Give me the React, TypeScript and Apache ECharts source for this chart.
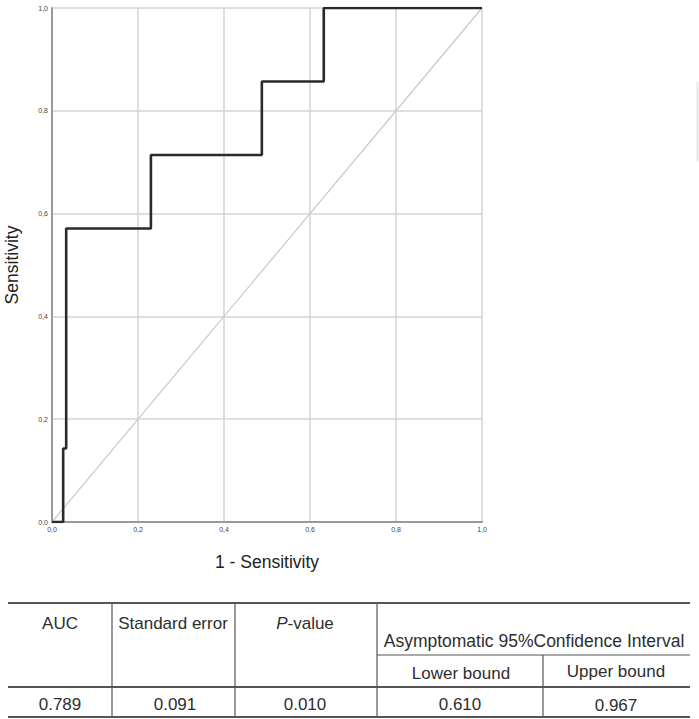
import React, { useEffect, useRef } from "react";
import * as echarts from "echarts";

// ROC curve step points (1 - specificity, sensitivity)
const fprValues = [0, 0.026, 0.033, 0.23, 0.488, 0.632, 1];
const tprValues = [0, 0.143, 0.571, 0.714, 0.857, 1, 1];
const refLine = [
  [0, 0],
  [1, 1],
];

// Table contents
const headerTop = ["AUC", "Standard error", "P-value", "Asymptomatic 95%Confidence Interval"];
const headerSub = ["Lower bound", "Upper bound"];
const rowValues = ["0.789", "0.091", "0.010", "0.610", "0.967"];

const FONT = "'Liberation Sans', Arial, Helvetica, sans-serif";

export default function App() {
  const ref = useRef<HTMLDivElement>(null);
  useEffect(() => {
    if (!ref.current) return;
    const chart = echarts.init(ref.current, null, { renderer: "svg" });
    const fmt = (v: number) => v.toFixed(1).replace(".", ",");
    const lineColor = "#555";
    const tx = (text: string, x: number, y: number, extra: any = {}) => ({
      type: "text",
      x,
      y,
      style: {
        text,
        fontFamily: FONT,
        fontSize: 17,
        fill: "#2e2e2e",
        align: "center",
        verticalAlign: "middle",
        ...extra,
      },
    });
    const ln = (x1: number, y1: number, x2: number, y2: number, w = 1.5) => ({
      type: "line",
      shape: { x1, y1, x2, y2 },
      style: { stroke: lineColor, lineWidth: w },
    });
    const graphic: any[] = [
      ln(8, 603, 690, 603, 2),
      ln(377, 655, 690, 655, 1.2),
      ln(8, 687, 690, 687, 2),
      ln(8, 717, 690, 717, 2),
      ln(112, 603, 112, 717, 1.2),
      ln(235, 603, 235, 717, 1.2),
      ln(377, 603, 377, 717, 1.2),
      ln(543, 655, 543, 717, 1.2),
      tx(headerTop[0], 60, 623),
      tx(headerTop[1], 173, 623),
      {
        type: "text",
        x: 305,
        y: 623,
        style: {
          rich: {
            i: { fontStyle: "italic", fontFamily: FONT, fontSize: 17, fill: "#2e2e2e" },
            n: { fontFamily: FONT, fontSize: 17, fill: "#2e2e2e" },
          },
          text: "{i|" + headerTop[2].slice(0, 1) + "}{n|" + headerTop[2].slice(1) + "}",
          align: "center",
          verticalAlign: "middle",
        },
      },
      tx(headerTop[3], 534, 641, { fontSize: 17.5 }),
      tx(headerSub[0], 461, 673),
      tx(headerSub[1], 616, 671),
      tx(rowValues[0], 60, 704),
      tx(rowValues[1], 175, 704),
      tx(rowValues[2], 305, 704),
      tx(rowValues[3], 460, 704),
      tx(rowValues[4], 616, 705),
      {
        type: "line",
        shape: { x1: 697.5, y1: 82, x2: 697.5, y2: 162 },
        style: { stroke: "#e6e6e6", lineWidth: 2 },
      },
    ];
    chart.setOption({
      animation: false,
      backgroundColor: "#fff",
      grid: {
        left: 52,
        top: 8,
        width: 430,
        height: 514,
        containLabel: false,
        outerBoundsMode: "none",
      },
      xAxis: {
        type: "value",
        min: 0,
        max: 1,
        interval: 0.2,
        name: "1 - Sensitivity",
        nameLocation: "middle",
        nameGap: 31,
        nameTextStyle: { fontFamily: FONT, fontSize: 17.5, color: "#222" },
        axisLine: { show: true, lineStyle: { color: "#999", width: 2 } },
        axisTick: { show: false },
        axisLabel: { formatter: fmt, fontSize: 7, color: "#444", margin: 4, fontFamily: FONT },
        splitLine: { show: true, lineStyle: { color: "#d4d4d4", width: 1.5 } },
      },
      yAxis: {
        type: "value",
        min: 0,
        max: 1,
        interval: 0.2,
        name: "Sensitivity",
        nameLocation: "middle",
        nameGap: 31,
        nameTextStyle: { fontFamily: FONT, fontSize: 17.5, color: "#222" },
        axisLine: { show: true, lineStyle: { color: "#999", width: 2 } },
        axisTick: { show: false },
        axisLabel: { formatter: fmt, fontSize: 7, color: "#444", margin: 4, fontFamily: FONT },
        splitLine: { show: true, lineStyle: { color: "#d4d4d4", width: 1.5 } },
      },
      series: [
        {
          type: "line",
          data: refLine,
          symbol: "none",
          lineStyle: { color: "#c8c8c8", width: 1.2 },
          silent: true,
          z: 2,
        },
        {
          type: "line",
          step: "end",
          data: fprValues.map((x, i) => [x, tprValues[i]]),
          symbol: "none",
          lineStyle: { color: "#2a2a2a", width: 2.6 },
          z: 3,
        },
      ],
      graphic,
    });
    return () => chart.dispose();
  }, []);
  return (
    <div
      ref={ref}
      style={{ position: "absolute", left: 0, top: 0, width: 699, height: 719 }}
    />
  );
}
